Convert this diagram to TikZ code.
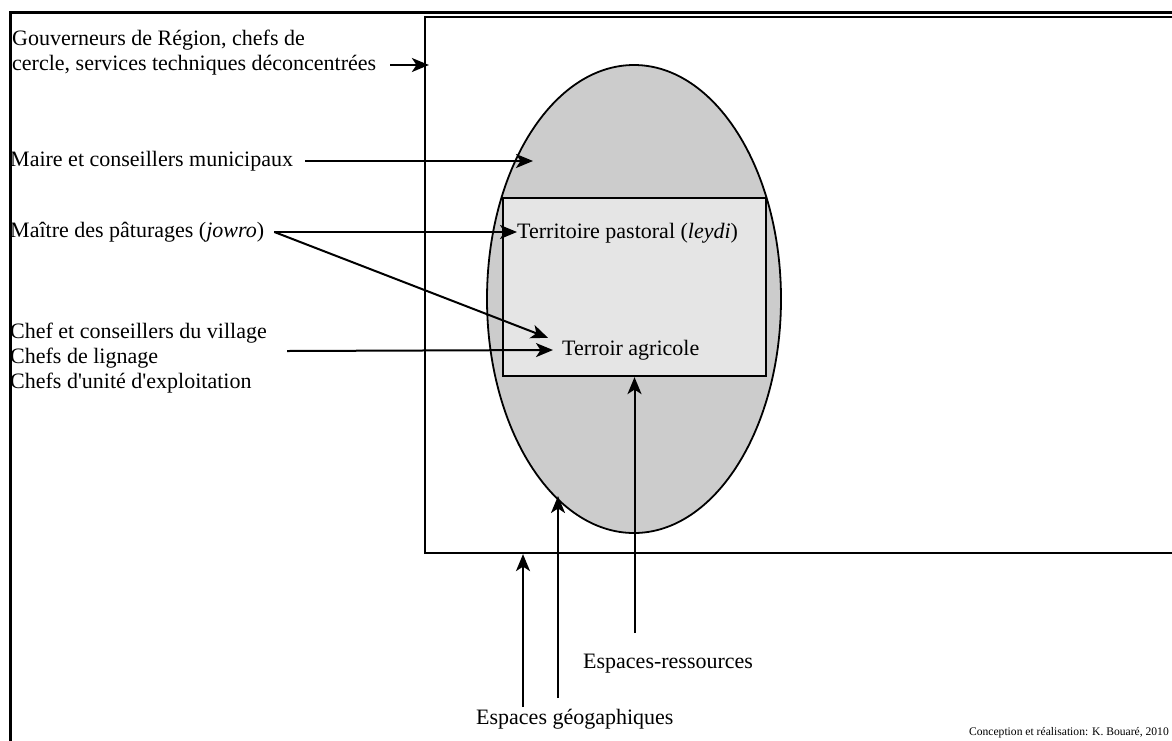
\documentclass[tikz,border=0pt]{standalone}
\usepackage{fontspec}
\setmainfont{Liberation Serif}
\usetikzlibrary{shapes.geometric,arrows.meta}

\begin{document}
\begin{tikzpicture}[x=1pt, y=-1pt,
    label/.style={inner sep=0pt, font=\fontsize{22}{25}\selectfont, align=left},
    arr/.style={-{Stealth[length=17pt,width=14pt,inset=4.5pt]}, line width=2pt},
    zone/.style={draw, line width=1.8pt, inner sep=0pt}]

    \useasboundingbox (0,0) rectangle (1172,740);
    \fill[white] (0,0) rectangle (1172,740);
    \draw[line width=3pt] (10,745) -- (10,12) -- (1180,12);

    \node[zone, line width=2.2pt, minimum width=765pt, minimum height=536pt] (cercle) at (807.5,285) {};
    \node[zone, ellipse, fill=black!20, minimum width=294pt, minimum height=468pt] (commune) at (634,299) {};
    \node[zone, line width=2.2pt, fill=black!10, minimum width=263pt, minimum height=178pt] (leydibox) at (634.5,287) {};

    \node[label, anchor=base west] (gouv) at (12,70) {Gouverneurs de Région, chefs de\\cercle, services techniques déconcentrées};
    \node[label, anchor=west] (maire) at (10,161) {Maire et conseillers municipaux};
    \node[label, anchor=west] (jowro) at (10,232) {Maître des pâturages (\textit{jowro})};
    \node[label, anchor=base west] (chef) at (10,388) {Chef et conseillers du village\\Chefs de lignage\\Chefs d\textquotesingle unité d\textquotesingle exploitation};
    \node[label, anchor=west] (leydi) at (517,233) {Territoire pastoral (\textit{leydi})};
    \node[label, anchor=west] (terroir) at (562,350) {Terroir agricole};
    \node[label, anchor=base west] (ressources) at (583,668) {Espaces-ressources};
    \node[label, anchor=base west] (geo) at (476,724) {Espaces géogaphiques};
    \node[inner sep=0pt, font=\fontsize{11.6}{14}\selectfont, anchor=base east] (credit) at (1169,735) {Conception et réalisation: K. Bouaré, 2010};

    \coordinate (gouvend) at (390,65);
    \draw[arr] (gouvend) -- ([xshift=5pt]gouvend -| cercle.west);
    \draw[arr] ([xshift=12pt]maire.east) -- (533,161);
    \draw[arr] ([xshift=10pt]jowro.east) -- (jowro.east -| leydi.west);
    \draw[arr] ([xshift=10pt]jowro.east) -- ([xshift=-14pt,yshift=2pt]terroir.north west);
    \draw[arr] (287,351) -- ([xshift=-9pt]terroir.west);
    \draw[arr] (leydibox.south |- 0,633) -- (leydibox.south);
    \draw[arr] (523,707) -- (cercle.south -| 523,0);
    \draw[arr] (558,698) -- (558,496);
\end{tikzpicture}
\end{document}
